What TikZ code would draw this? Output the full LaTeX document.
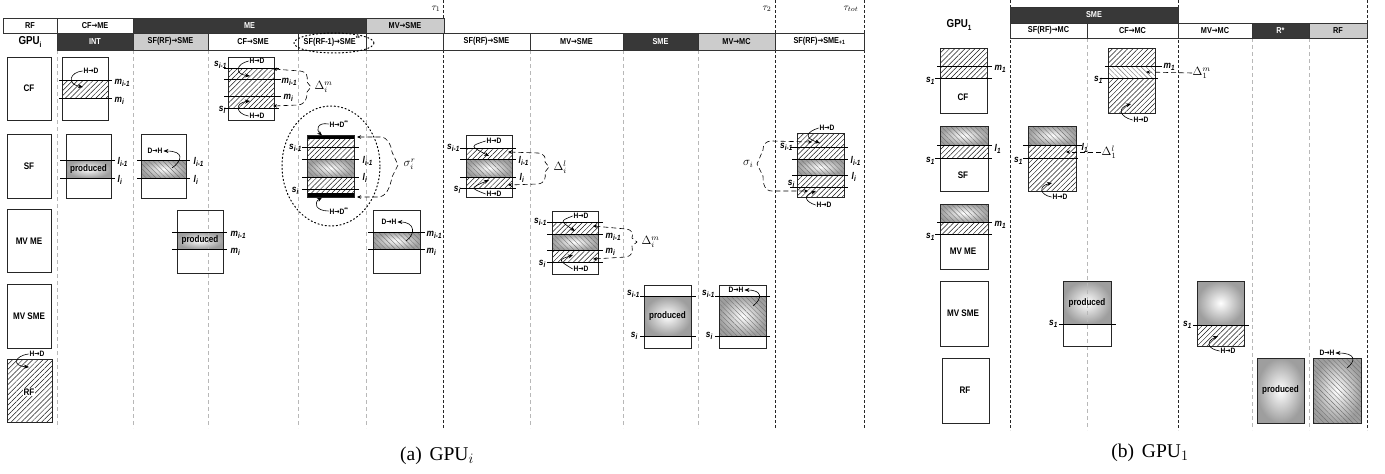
\documentclass[tikz,border=0pt]{standalone}
\usepackage{fontspec}
\setmainfont{Liberation Serif}
\newfontfamily\nf[FakeStretch=0.85]{Liberation Sans}
\newfontfamily\arrf[FakeStretch=0.8]{DejaVu Sans}
\usetikzlibrary{patterns.meta,arrows.meta}
\pgfdeclarelayer{fills}\pgfdeclarelayer{vl}
\pgfsetlayers{fills,vl,main}
\newcommand\RA{{\arrf\bfseries →}}
\newcommand\fHdr{\nf\bfseries\fontsize{8.6}{9}\selectfont}
\newcommand\fTag{\nf\bfseries\fontsize{7.8}{8}\selectfont}
\newcommand\fRes{\nf\bfseries\fontsize{9.5}{10}\selectfont}
\newcommand\fProd{\nf\bfseries\fontsize{9.5}{10}\selectfont}
\newcommand\fLab{\nf\bfseries\itshape\fontsize{9.8}{10}\selectfont}
\newcommand\fGpu{\nf\bfseries\fontsize{11.5}{12}\selectfont}
\newcommand\lsub[2]{#1\raisebox{-2.5pt}{\fontsize{7.5}{7.5}\selectfont #2}}
\newcommand\NEf[4]{\begin{pgfonlayer}{fills}\fill[pattern={Lines[angle=45,distance=3.6pt,line width=0.5pt]},pattern color=black!90] (#1,#2) rectangle (#3,#4);\end{pgfonlayer}}
\newcommand\NWf[4]{\begin{pgfonlayer}{fills}\fill[pattern={Lines[angle=-45,distance=3.4pt,line width=0.4pt]},pattern color=black!55] (#1,#2) rectangle (#3,#4);\end{pgfonlayer}}
\newcommand\GSf[4]{\begin{pgfonlayer}{fills}\shade[inner color=white,outer color=black!38] (#1,#2) rectangle (#3,#4);\end{pgfonlayer}}
\newcommand\GNf[4]{\GSf{#1}{#2}{#3}{#4}\NWf{#1}{#2}{#3}{#4}}
\newcommand\RB[4]{\draw[rbox] (#1,#2) rectangle (#3,#4);}
\newcommand\HL[3]{\draw[hline] (#1,#3) -- (#2,#3);}
\newcommand\hcell[7]{\node[hcell,#6,minimum width={(#4)-(#2)},minimum height={(#5)-(#3)}] (#1) at ({((#2)+(#4))/2},{((#3)+(#5))/2}) {#7};}
\tikzset{
 hcell/.style={draw=black!80, line width=0.7pt, inner sep=0pt, font=\fHdr},
 hw/.style={fill=white},
 hd/.style={fill=black!78, text=white},
 hg/.style={fill=black!20},
 rbox/.style={draw=black!85, line width=0.75pt},
 hline/.style={black, line width=0.75pt},
 res/.style={font=\fRes, inner sep=1pt},
 tag/.style={font=\fTag, inner sep=0.8pt},
 prod/.style={font=\fProd, inner sep=0.5pt},
 lab/.style={font=\fLab, inner sep=0.5pt},
 gpu/.style={font=\fGpu},
 arr/.style={line width=0.6pt, -{Stealth[length=5pt,width=4pt]}},
 dbrace/.style={line width=0.6pt, dash pattern=on 5pt off 3pt, {Stealth[length=4pt,width=3.5pt]}-{Stealth[length=4pt,width=3.5pt]}},
 dline/.style={line width=0.6pt, dash pattern=on 5pt off 3pt, -{Stealth[length=4pt,width=3.5pt]}},
 dotell/.style={line width=1pt, dash pattern=on 1.2pt off 2.5pt, line cap=round},
 vgrey/.style={black!28, line width=0.7pt, dash pattern=on 4pt off 3pt},
 vblk/.style={black!85, line width=0.8pt, dash pattern=on 3pt off 2pt},
 mathlab/.style={font=\fontsize{12}{12}\selectfont, inner sep=0.5pt},
 taulab/.style={font=\fontsize{10}{10}\selectfont, inner sep=0.5pt},
 captext/.style={font=\fontsize{19.5}{21}\selectfont},
}
\begin{document}
\begin{tikzpicture}[x=1pt,y=-1pt]
\useasboundingbox (0,0) rectangle (1385,474);
% ---------- vertical time lines ----------
\begin{pgfonlayer}{vl}
\foreach \xx in {57,133,208,298,366,530,623,698} \draw[vgrey] (\xx,50) -- (\xx,428);
\foreach \xx in {1087,1252,1309} \draw[vgrey] (\xx,38) -- (\xx,430);
\foreach \xx in {443,775,864} \draw[vblk] (\xx,0) -- (\xx,428);
\foreach \xx in {1010,1178,1367} \draw[vblk] (\xx,0) -- (\xx,430);
\end{pgfonlayer}
\node[taulab] (tau1) at (436,9) {$\tau_1$};
\node[taulab] (tau2) at (767,9) {$\tau_2$};
\node[taulab] (tautot) at (851,9) {$\tau_{tot}$};
\node[taulab] (rtau1) at (1170,-3) {$\tau_1$};
\node[taulab] (rtautot) at (1353,-3) {$\tau_{tot}$};
% ---------- headers, left ----------
\hcell{hRF}{3}{18}{57}{33}{hw}{RF}
\hcell{hCFME}{57}{18}{133}{33}{hw}{CF\RA ME}
\hcell{hME}{133}{18}{366}{33}{hd}{ME}
\hcell{hMVSME}{366}{18}{444}{33}{hg}{MV\RA SME}
\hcell{hINT}{57}{33}{133}{50}{hd}{INT}
\hcell{hSFRF}{133}{33}{208}{50}{hg}{SF(RF)\RA SME}
\hcell{hCFSME}{208}{33}{298}{50}{hw}{CF\RA SME}
\hcell{hSFRFm}{298}{33}{366}{50}{hw}{SF(RF-1)\RA SME\textsuperscript{**}}
\hcell{hEmpty}{366}{33}{443}{50}{hw}{}
\hcell{hSFRFb}{443}{33}{530}{50}{hw}{SF(RF)\RA SME}
\hcell{hMVSMEb}{530}{33}{623}{50}{hw}{MV\RA SME}
\hcell{hSME}{623}{33}{698}{50}{hd}{SME}
\hcell{hMVMC}{698}{33}{775}{50}{hg}{MV\RA MC}
\hcell{hSFRFc}{775}{33}{864}{50}{hw}{SF(RF)\RA SME\textsubscript{+1}}
\node[gpu] (gpui) at (30,42) {GPU\raisebox{-2.5pt}{\fontsize{7.5}{7.5}\selectfont i}};
\draw[dotell] (334,43) ellipse [x radius=40pt, y radius=10pt];
% ---------- headers, right ----------
\hcell{rSME}{1010}{7}{1178}{23}{hd}{SME}
\hcell{rSFMC}{1010}{23}{1087}{38}{hw}{SF(RF)\RA MC}
\hcell{rCFMC}{1087}{23}{1178}{38}{hw}{CF\RA MC}
\hcell{rMVMC}{1178}{23}{1252}{38}{hw}{MV\RA MC}
\hcell{rRs}{1252}{23}{1309}{38}{hd}{R*}
\hcell{rRF}{1309}{23}{1367}{38}{hg}{RF}
\node[gpu] (gpu1) at (959,25) {GPU\raisebox{-2.5pt}{\fontsize{7.5}{7.5}\selectfont 1}};
% ---------- left resource column (GPU_i) ----------
\RB{7}{57}{51}{120} \node[res] (rCF) at (29,88) {CF};
\RB{7}{134}{51}{198} \node[res] (rSF) at (29,166) {SF};
\RB{7}{209}{51}{272} \node[res] (rMVME) at (29,241) {MV ME};
\RB{7}{284}{51}{348} \node[res] (rMVSME) at (29,316) {MV SME};
\NEf{7}{359}{52}{422}\RB{7}{359}{52}{422} \node[res,fill=white,inner sep=0.5pt] (rRFl) at (29,392) {RF};
\node[tag] (tRF) at (37,354) {H\RA D};
\draw[arr] (tRF.west) .. controls (14,356) and (12,366) .. (29,367);
% ---------- INT ----------
\NEf{62}{80}{108}{98}
\RB{62}{57}{108}{120}
\HL{59}{112}{80}\HL{59}{112}{98}
\node[tag] (t1) at (91,71) {H\RA D};
\draw[arr] (t1.west) .. controls (70,72) and (66,84) .. (83,87);
\node[lab,anchor=base west] (m1a) at (114,84) {\lsub{m}{i-1}};
\node[lab,anchor=base west] (m1b) at (114,102) {\lsub{m}{i}};
\GSf{66}{160}{111}{178}
\RB{66}{134}{111}{198}
\HL{60}{115}{160}\HL{60}{115}{178}
\node[prod] (p1) at (88.5,169) {produced};
\node[lab,anchor=base west] (l1a) at (117,164) {\lsub{l}{i-1}};
\node[lab,anchor=base west] (l1b) at (117,182) {\lsub{l}{i}};
% ---------- SF(RF)->SME ----------
\GNf{141}{160}{186}{178}
\RB{141}{134}{186}{198}
\HL{137}{190}{160}\HL{137}{190}{178}
\node[tag] (t2) at (155,151) {D\RA H};
\draw[arr] (172,168) .. controls (182,161) and (185,151) .. (t2.east);
\node[lab,anchor=base west] (l2a) at (193,164) {\lsub{l}{i-1}};
\node[lab,anchor=base west] (l2b) at (193,182) {\lsub{l}{i}};
\GSf{177}{232}{223}{249}
\RB{177}{210}{223}{273}
\HL{172}{227}{232}\HL{172}{227}{249}
\node[prod] (p2) at (200,240.5) {produced};
\node[lab,anchor=base west] (m2a) at (230,236) {\lsub{m}{i-1}};
\node[lab,anchor=base west] (m2b) at (230,253) {\lsub{m}{i}};
% ---------- CF->SME ----------
\NEf{228}{68}{274}{108}
\RB{228}{57}{274}{120}
\HL{224}{279}{68}\HL{224}{281}{79}\HL{224}{281}{96}\HL{224}{279}{108}
\node[lab,anchor=base east] (s3a) at (227,66) {\lsub{s}{i-1}};
\node[lab,anchor=base east] (s3b) at (226,111) {\lsub{s}{i}};
\node[lab,anchor=base west] (m3a) at (281,83) {\lsub{m}{i-1}};
\node[lab,anchor=base west] (m3b) at (283,99) {\lsub{m}{i}};
\node[tag] (t3a) at (257,61) {H\RA D};
\draw[arr] (t3a.west) .. controls (236,64) and (234,74) .. (250,76);
\node[tag] (t3b) at (257,116) {H\RA D};
\draw[arr] (t3b.west) .. controls (236,114) and (234,103) .. (250,101);
\draw[dbrace] (273,69) -- (300,71) .. controls (307,72) and (308,76) .. (307,82) -- (311,87) -- (307,92) .. controls (307,100) and (305,104) .. (298,105) -- (273,106);
\node[mathlab,anchor=west] (dm1) at (314,87) {$\Delta_i^m$};
% ---------- SF(RF-1)->SME** ----------
\NEf{307}{139}{354}{159}\GNf{307}{159}{354}{177}\NEf{307}{177}{354}{193}
\fill (307,135) rectangle (354,139); \fill (307,193) rectangle (354,197);
\RB{307}{135}{354}{197}
\HL{302}{359}{147}\HL{302}{359}{159}\HL{302}{359}{177}\HL{302}{359}{189}
\node[lab,anchor=base east] (s4a) at (302,149) {\lsub{s}{i-1}};
\node[lab,anchor=base east] (s4b) at (299,192) {\lsub{s}{i}};
\node[lab,anchor=base west] (l4a) at (362,163) {\lsub{l}{i-1}};
\node[lab,anchor=base west] (l4b) at (362,180) {\lsub{l}{i}};
\node[tag] (t4a) at (339,124) {H\RA D\textsuperscript{**}};
\draw[arr] (t4a.west) .. controls (317,122) and (316,130) .. (322,135.5);
\node[tag] (t4b) at (339,211) {H\RA D\textsuperscript{**}};
\draw[arr] (t4b.west) .. controls (316,211) and (313,203) .. (322,197.5);
\draw[dotell] (331,166) ellipse [x radius=49pt, y radius=60pt];
\draw[dbrace] (357,137) -- (380,137) .. controls (388,137) and (391,145) .. (392,152) -- (398,165) -- (392,177) .. controls (390,188) and (386,197) .. (378,197) -- (357,197);
\node[mathlab,anchor=west] (sr) at (403,164) {$\sigma_i^r$};
% ---------- MV->SME (ME) ----------
\GNf{373}{232}{420}{249}
\RB{373}{210}{420}{273}
\HL{368}{425}{232}\HL{368}{425}{249}
\node[tag] (t5) at (389,222) {D\RA H};
\draw[arr] (406,241) .. controls (416,234) and (415,222) .. (t5.east);
\node[lab,anchor=base west] (m5a) at (426,236) {\lsub{m}{i-1}};
\node[lab,anchor=base west] (m5b) at (426,253) {\lsub{m}{i}};
% ---------- SF(RF)->SME after tau1 ----------
\NEf{466}{148}{512}{159}\GNf{466}{159}{512}{177}\NEf{466}{177}{512}{188}
\RB{466}{135}{512}{197}
\HL{460}{516}{148}\HL{460}{516}{159}\HL{460}{516}{177}\HL{460}{516}{188}
\node[lab,anchor=base east] (s6a) at (460,149) {\lsub{s}{i-1}};
\node[lab,anchor=base east] (s6b) at (461,191) {\lsub{s}{i}};
\node[lab,anchor=base west] (l6a) at (518,163) {\lsub{l}{i-1}};
\node[lab,anchor=base west] (l6b) at (519,180) {\lsub{l}{i}};
\node[tag] (t6a) at (494,141) {H\RA D};
\draw[arr] (t6a.west) .. controls (470,146) .. (489,156);
\node[tag] (t6b) at (494,194) {H\RA D};
\draw[arr] (t6b.west) .. controls (470,188) .. (489,180);
\draw[dbrace] (508,152) -- (538,153) .. controls (545,154) and (546,158) .. (545,162) -- (549,167) -- (545,172) .. controls (546,178) and (545,183) .. (538,184) -- (508,185);
\node[mathlab,anchor=west] (dl1) at (553,167) {$\Delta_i^l$};
% ---------- MV->SME after tau1 ----------
\NEf{552}{222}{598}{234}\GNf{552}{234}{598}{250}\NEf{552}{250}{598}{262}
\RB{552}{211}{598}{274}
\HL{547}{603}{222}\HL{547}{603}{234}\HL{547}{603}{250}\HL{547}{603}{262}
\node[lab,anchor=base east] (s7a) at (547,223) {\lsub{s}{i-1}};
\node[lab,anchor=base east] (s7b) at (546,265) {\lsub{s}{i}};
\node[lab,anchor=base west] (m7a) at (605,238) {\lsub{m}{i-1}};
\node[lab,anchor=base west] (m7b) at (605,253) {\lsub{m}{i}};
\node[tag] (t7a) at (581,216) {H\RA D};
\draw[arr] (t7a.west) .. controls (560,221) .. (575,231);
\node[tag] (t7b) at (581,269) {H\RA D};
\draw[arr] (t7b.west) .. controls (558,260) .. (573,255);
\draw[dbrace] (593,226) -- (626,229) .. controls (633,230) and (633,234) .. (632,238) -- (637,242) -- (632,246) .. controls (633,252) and (632,256) .. (626,257) -- (593,259);
\node[mathlab,anchor=west] (dm2) at (641,242) {$\Delta_i^m$};
% ---------- SME ----------
\GSf{644}{296}{691}{336}\RB{644}{285}{691}{348}
\HL{640}{696}{296}\HL{640}{696}{336}
\node[prod] (p3) at (667.5,316) {produced};
\node[lab,anchor=base east] (s8a) at (640,295) {\lsub{s}{i-1}};
\node[lab,anchor=base east] (s8b) at (638,337) {\lsub{s}{i}};
% ---------- MV->MC ----------
\GNf{719}{296}{766}{336}\RB{719}{285}{766}{348}
\HL{715}{770}{296}\HL{715}{770}{336}
\node[tag] (t9) at (736,290) {D\RA H};
\draw[arr] (753,306) .. controls (763,298) and (762,290) .. (t9.east);
\node[lab,anchor=base east] (s9a) at (715,295) {\lsub{s}{i-1}};
\node[lab,anchor=base east] (s9b) at (713,337) {\lsub{s}{i}};
% ---------- SF(RF)->SME+1 ----------
\NEf{797}{133}{844}{159}\GNf{797}{159}{844}{175}\NEf{797}{175}{844}{197}
\RB{797}{133}{844}{197}
\HL{790}{848}{147}\HL{792}{848}{159}\HL{792}{848}{175}\HL{790}{848}{187}
\node[lab,anchor=base east] (s10a) at (793,148) {\lsub{s}{i-1}};
\node[lab,anchor=base east] (s10b) at (795,185) {\lsub{s}{i}};
\node[lab,anchor=base west] (l10a) at (850,163) {\lsub{l}{i-1}};
\node[lab,anchor=base west] (l10b) at (851,179) {\lsub{l}{i}};
\node[tag] (t10a) at (827,128) {H\RA D};
\draw[arr] (t10a.west) .. controls (806,132) and (804,138) .. (820,143);
\node[tag] (t10b) at (824,205) {H\RA D};
\draw[arr] (t10b.west) .. controls (806,202) and (802,196) .. (816,191);
\draw[dbrace] (812,142) -- (772,141) .. controls (765,141) and (763,145) .. (763,150) -- (757,164) -- (763,176) .. controls (763,185) and (765,191) .. (772,191) -- (808,191);
\node[mathlab,anchor=east] (sg) at (754,164) {$\sigma_i$};
% ---------- right panel resource column ----------
\NEf{940}{48}{987}{78}\RB{940}{48}{987}{113}
\HL{937}{992}{66}\HL{935}{992}{78}
\node[res] (qCF) at (963,97) {CF};
\node[lab,anchor=base west] (qm1) at (994,70) {\lsub{m}{1}};
\node[lab,anchor=base east] (qs1) at (935,82) {\lsub{s}{1}};
\GNf{940}{126}{988}{145}\NEf{940}{145}{988}{158}\RB{940}{126}{988}{191}
\HL{937}{992}{145}\HL{935}{992}{158}
\node[res] (qSF) at (963,175) {SF};
\node[lab,anchor=base west] (ql1) at (994,151) {\lsub{l}{1}};
\node[lab,anchor=base east] (qs2) at (935,162) {\lsub{s}{1}};
\GNf{940}{204}{988}{222}\NEf{940}{222}{988}{234}\RB{940}{204}{988}{269}
\HL{937}{992}{222}\HL{935}{992}{234}
\node[res] (qMVME) at (963,251) {MV ME};
\node[lab,anchor=base west] (qm2) at (994,226) {\lsub{m}{1}};
\node[lab,anchor=base east] (qs3) at (935,238) {\lsub{s}{1}};
\RB{940}{281}{988}{346}
\node[res] (qMVSME) at (963,313) {MV SME};
\RB{942}{358}{989}{423}
\node[res] (qRF) at (965,390) {RF};
% ---------- SF(RF)->MC ----------
\GNf{1028}{126}{1076}{145}\NEf{1028}{145}{1076}{191}\RB{1028}{126}{1076}{191}
\HL{1023}{1082}{145}\HL{1023}{1078}{158}
\node[lab,anchor=base west] (ql2) at (1081,150) {\lsub{l}{1}};
\node[lab,anchor=base east] (qs4) at (1023,162) {\lsub{s}{1}};
\node[tag] (tJ) at (1060,197) {H\RA D};
\draw[arr] (tJ.west) .. controls (1040,195) and (1038,186) .. (1052,183);
\node[mathlab,anchor=west] (dl2) at (1101,152) {$\Delta_1^l$};
\draw[dline] (dl2.west) -- (1066,152);
\GSf{1063}{281}{1111}{324}\RB{1063}{281}{1111}{346}
\HL{1059}{1116}{324}
\node[prod] (p4) at (1087,303) {produced};
\node[lab,anchor=base east] (qs5) at (1058,325) {\lsub{s}{1}};
% ---------- CF->MC ----------
\NEf{1108}{48}{1155}{66}\NWf{1108}{66}{1155}{78}\NEf{1108}{78}{1155}{113}\RB{1108}{48}{1155}{113}
\HL{1105}{1162}{66}\HL{1100}{1158}{78}
\node[lab,anchor=base west] (qm3) at (1163,68) {\lsub{m}{1}};
\node[lab,anchor=base east] (qs6) at (1103,81) {\lsub{s}{1}};
\node[tag] (tK) at (1141,120) {H\RA D};
\draw[arr] (tK.west) .. controls (1120,117) and (1117,108) .. (1131,104);
\node[mathlab,anchor=west] (dm3) at (1192,73) {$\Delta_1^m$};
\draw[dline] (dm3.west) -- (1146,72);
% ---------- MV->MC ----------
\GSf{1197}{281}{1244}{325}\NEf{1197}{325}{1244}{346}\RB{1197}{281}{1244}{346}
\HL{1193}{1249}{325}
\node[lab,anchor=base east] (qs7) at (1192,326) {\lsub{s}{1}};
\node[tag] (tL) at (1228,351) {H\RA D};
\draw[arr] (tL.west) .. controls (1208,349) and (1205,342) .. (1218,336);
% ---------- R* and RF ----------
\GSf{1257}{358}{1304}{423}\RB{1257}{358}{1304}{423}
\node[prod] (p5) at (1280.5,390.5) {produced};
\GNf{1313}{358}{1361}{423}\RB{1313}{358}{1361}{423}
\node[tag] (tM) at (1327,353) {D\RA H};
\draw[arr] (1347,368) .. controls (1356,361) and (1356,353) .. (tM.east);
% ---------- captions ----------
\node[captext] (capa) at (437,456) {(a)\hspace{0.4em}GPU$_i$};
\node[captext] (capb) at (1150,453) {(b)\hspace{0.4em}GPU$_1$};
\end{tikzpicture}
\end{document}
